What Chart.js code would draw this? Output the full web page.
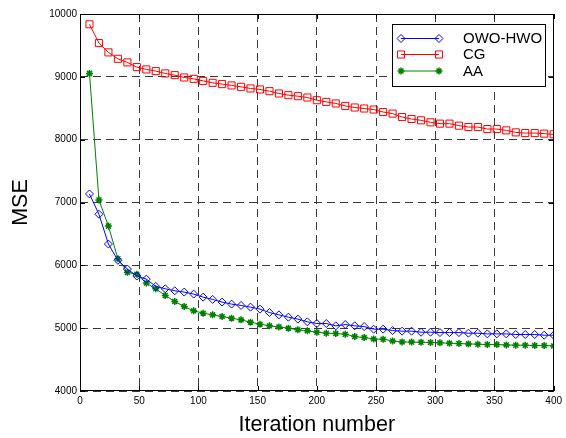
<!DOCTYPE html>
<html>
<head>
<meta charset="utf-8">
<script src="https://cdn.jsdelivr.net/npm/chart.js@4/dist/chart.umd.min.js"></script>
<style>
  html, body { margin: 0; padding: 0; background: #fff; }
  #wrap { width: 566px; height: 438px; }
</style>
</head>
<body>
<div id="wrap"><canvas id="c" width="566" height="438"></canvas></div>
<script>
const iterations = [8,16,24,32,40,48,56,64,72,80,88,96,104,112,120,128,136,144,152,160,
  168,176,184,192,200,208,216,224,232,240,248,256,264,272,280,288,296,304,312,320,
  328,336,344,352,360,368,376,384,392,400];

const owoHwo = [7136,6813,6339,6080,5941,5830,5781,5664,5627,5595,5574,5542,5494,5457,5415,5383,5361,5335,5303,5249,
  5212,5175,5144,5101,5074,5074,5037,5058,5037,5026,4984,4984,4962,4952,4952,4936,4936,4930,4930,4930,
  4920,4920,4909,4909,4909,4899,4899,4899,4888,4888];

const cg = [9836,9537,9389,9287,9230,9155,9118,9091,9054,9027,8990,8968,8935,8905,8884,8863,8841,8815,8799,8772,
  8735,8708,8692,8671,8628,8601,8576,8537,8512,8496,8480,8440,8415,8360,8329,8308,8276,8255,8255,8223,
  8201,8201,8169,8169,8148,8116,8105,8105,8096,8085];

const aa = [9055,7041,6626,6105,5888,5857,5718,5627,5520,5424,5344,5276,5239,5212,5185,5159,5132,5096,5064,5037,
  5020,5000,4973,4957,4936,4920,4914,4904,4866,4850,4829,4824,4797,4781,4778,4775,4772,4766,4761,4755,
  4750,4745,4739,4739,4734,4729,4729,4723,4723,4718];

const seriesNames = ['OWO-HWO', 'CG', 'AA'];
const xTicks = [0,50,100,150,200,250,300,350,400];
const yTicks = [4000,5000,6000,7000,8000,9000,10000];

Chart.defaults.font.family = '"Liberation Sans", Arial, Helvetica, sans-serif';
Chart.defaults.color = '#000';

function toPoints(ys) { return iterations.map((x, i) => ({x: x, y: ys[i]})); }

function drawMarker(ctx, style, r, x, y) {
  ctx.beginPath();
  if (style === 'rectRot') {
    ctx.moveTo(x, y - r); ctx.lineTo(x + r, y); ctx.lineTo(x, y + r); ctx.lineTo(x - r, y); ctx.closePath();
  } else if (style === 'rect') {
    const s = Math.SQRT1_2 * r;
    ctx.rect(x - s, y - s, 2 * s, 2 * s);
  } else if (style === 'star') {
    ctx.moveTo(x - r, y); ctx.lineTo(x + r, y);
    ctx.moveTo(x, y - r); ctx.lineTo(x, y + r);
    const d = r * Math.SQRT1_2;
    ctx.moveTo(x - d, y - d); ctx.lineTo(x + d, y + d);
    ctx.moveTo(x - d, y + d); ctx.lineTo(x + d, y - d);
  }
  ctx.stroke();
}

const framePlugin = {
  id: 'matlabFrame',
  afterDraw(chart) {
    const ctx = chart.ctx;
    const a = chart.chartArea;
    const xs = chart.scales.x, ys = chart.scales.y;
    ctx.save();
    ctx.strokeStyle = '#000';
    ctx.lineWidth = 1;
    ctx.setLineDash([]);
    ctx.strokeRect(Math.round(a.left) + 0.5, Math.round(a.top) + 0.5,
      Math.round(a.right - a.left) - 1, Math.round(a.bottom - a.top) - 1);
    const tl = 5;
    ctx.beginPath();
    xTicks.forEach(v => {
      const px = Math.round(xs.getPixelForValue(v)) + 0.5;
      ctx.moveTo(px, a.bottom); ctx.lineTo(px, a.bottom - tl);
      ctx.moveTo(px, a.top); ctx.lineTo(px, a.top + tl);
    });
    yTicks.forEach(v => {
      const py = Math.round(ys.getPixelForValue(v)) + 0.5;
      ctx.moveTo(a.left, py); ctx.lineTo(a.left + tl, py);
      ctx.moveTo(a.right, py); ctx.lineTo(a.right - tl, py);
    });
    ctx.stroke();

    // legend box (MATLAB style)
    const bx = 392.5, by = 24.5, bw = 153, bh = 62;
    ctx.fillStyle = '#fff';
    ctx.fillRect(bx, by, bw, bh);
    ctx.strokeRect(bx, by, bw, bh);
    const rowsY = [38.5, 54.5, 71];
    chart.data.datasets.forEach((ds, i) => {
      const yy = rowsY[i];
      ctx.strokeStyle = ds.borderColor;
      ctx.lineWidth = 1;
      ctx.beginPath(); ctx.moveTo(401, yy); ctx.lineTo(439, yy); ctx.stroke();
      ctx.lineWidth = ds.pointBorderWidth;
      drawMarker(ctx, ds.pointStyle, ds.pointRadius, 401, yy);
      drawMarker(ctx, ds.pointStyle, ds.pointRadius, 439, yy);
      ctx.fillStyle = '#000';
      ctx.font = '15px "Liberation Sans", Arial, sans-serif';
      ctx.textBaseline = 'middle';
      ctx.textAlign = 'left';
      ctx.fillText(ds.label, 463, yy + 0.5);
    });
    ctx.restore();
  }
};

new Chart(document.getElementById('c'), {
  type: 'line',
  data: {
    datasets: [
      { label: seriesNames[0], data: toPoints(owoHwo), borderColor: '#0000ff', backgroundColor: 'transparent',
        borderWidth: 1, pointStyle: 'rectRot', pointRadius: 4, pointBorderWidth: 1,
        pointBorderColor: '#0000ff', pointBackgroundColor: 'transparent', tension: 0 },
      { label: seriesNames[1], data: toPoints(cg), borderColor: '#ff0000', backgroundColor: 'transparent',
        borderWidth: 1, pointStyle: 'rect', pointRadius: 5, pointBorderWidth: 1,
        pointBorderColor: '#ff0000', pointBackgroundColor: 'transparent', tension: 0 },
      { label: seriesNames[2], data: toPoints(aa), borderColor: '#008000', backgroundColor: 'transparent',
        borderWidth: 1, pointStyle: 'star', pointRadius: 3.5, pointBorderWidth: 1.5,
        pointBorderColor: '#008000', pointBackgroundColor: '#008000', tension: 0 }
    ]
  },
  options: {
    responsive: false,
    animation: false,
    devicePixelRatio: 1,
    layout: { padding: { left: 0, right: 7, top: 14, bottom: 0 } },
    plugins: { legend: { display: false }, tooltip: { enabled: false } },
    scales: {
      x: {
        type: 'linear', min: 0, max: 400,
        afterBuildTicks: s => { s.ticks = xTicks.map(v => ({value: v})); },
        ticks: { font: { size: 10 }, padding: 4, color: '#000', maxRotation: 0 },
        grid: { color: '#3a3a3a', lineWidth: 1, drawTicks: false },
        border: { display: false, dash: [8, 5] },
        title: { display: true, text: 'Iteration number', font: { size: 21.5 }, color: '#000', padding: { top: 0, bottom: 0 } },
        afterFit: s => { s.height = 47; }
      },
      y: {
        type: 'linear', min: 4000, max: 10000,
        afterBuildTicks: s => { s.ticks = yTicks.map(v => ({value: v})); },
        ticks: { font: { size: 10 }, padding: 3, color: '#000', callback: v => String(v) },
        grid: { color: '#3a3a3a', lineWidth: 1, drawTicks: false },
        border: { display: false, dash: [8, 5] },
        title: { display: true, text: 'MSE', font: { size: 21.5 }, color: '#000', padding: { top: 8, bottom: 0 } },
        afterFit: s => { s.width = 80; }
      }
    }
  },
  plugins: [framePlugin]
});
</script>
</body>
</html>
